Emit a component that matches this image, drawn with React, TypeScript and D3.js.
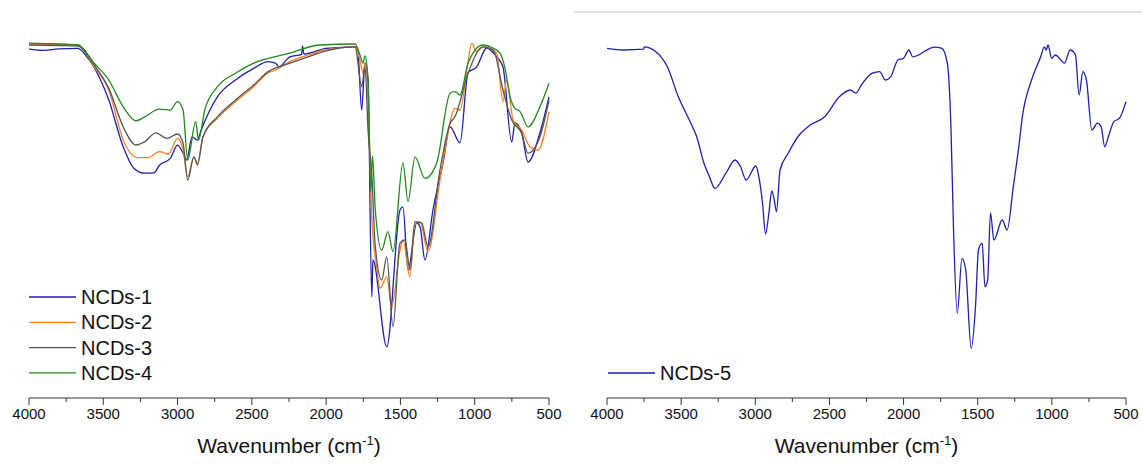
import React from "react";
import * as d3 from "d3";

type Pt = [number, number];

const xTicks = [4000, 3500, 3000, 2500, 2000, 1500, 1000, 500];
const xMinorTicks = [3750, 3250, 2750, 2250, 1750, 1250, 750];

const ncds1: Pt[] = [
  [4000, 87.7], [3900, 87.4], [3800, 87.8], [3671, 87.9], [3610, 85.8], [3463, 75], [3366, 63.3],
  [3293, 57.9], [3220, 56.7], [3159, 56.8], [3122, 58.7], [3049, 60.4], [3000, 63.7], [2963, 61.7],
  [2939, 60], [2902, 65.8], [2866, 65], [2841, 67.5], [2732, 75.8], [2610, 80], [2488, 82.9],
  [2390, 84.6], [2341, 84.2], [2317, 83.3], [2244, 85.8], [2165, 86.4], [2159, 88.5], [2150, 86.5],
  [2000, 87.9], [1805, 88.3], [1786, 87], [1761, 72.5], [1738, 84.3], [1718, 80], [1693, 25.8],
  [1685, 35], [1592, 13.3], [1503, 47.5], [1483, 48.3], [1449, 32.5], [1390, 44.3], [1368, 43.3],
  [1335, 35], [1281, 47.5], [1213, 59.3], [1166, 68.3], [1099, 64.3], [1045, 81.8], [987, 83.3],
  [919, 88], [852, 85.8], [810, 83.3], [751, 64.5], [729, 69.3], [684, 66.8], [641, 59.5],
  [561, 66.8], [500, 75.8],
];

const ncds2: Pt[] = [
  [4000, 89], [3800, 88.9], [3671, 88.75], [3561, 83.3], [3463, 77.5], [3366, 65], [3268, 60.6],
  [3195, 60.6], [3122, 62.1], [3061, 61.5], [3000, 65.4], [2963, 62.5], [2932, 55.8], [2890, 60.8],
  [2866, 59.2], [2829, 65.8], [2732, 70.4], [2610, 74.6], [2488, 78.3], [2390, 81.8], [2341, 82.5],
  [2244, 84.6], [2122, 86.25], [2000, 87.5], [1805, 88.3], [1770, 84.6], [1752, 81.7], [1738, 84.2],
  [1710, 67.5], [1693, 45.8], [1660, 33.3], [1637, 27.9], [1592, 30.8], [1559, 23.3], [1503, 37.5],
  [1483, 40], [1436, 30.8], [1402, 44.2], [1368, 44.6], [1314, 37.1], [1234, 55], [1189, 65],
  [1133, 72.9], [1099, 72.5], [1045, 84.6], [1020, 89.2], [987, 87.1], [944, 88.3], [852, 86.7],
  [810, 74.6], [785, 80], [742, 70], [684, 67.5], [628, 63.3], [574, 62.5], [500, 72.1],
];

const ncds3: Pt[] = [
  [4000, 88.75], [3800, 88.6], [3671, 88.5], [3561, 83.75], [3463, 77.9], [3366, 68.3], [3280, 63.75],
  [3220, 64.6], [3146, 66.8], [3073, 65.4], [3000, 66.5], [2963, 64.2], [2932, 55], [2890, 60.8],
  [2866, 58.75], [2829, 65.8], [2732, 70.8], [2610, 75], [2488, 78.75], [2390, 82.1], [2244, 84.2],
  [2122, 85.8], [2000, 87.3], [1805, 88.3], [1761, 78.3], [1738, 83.3], [1718, 67.5], [1691, 55],
  [1671, 39.2], [1626, 30], [1592, 35.8], [1550, 18.3], [1503, 39.2], [1469, 40], [1436, 32.5],
  [1402, 44.6], [1357, 44.2], [1314, 38.3], [1234, 57.5], [1166, 69.2], [1133, 70.8], [1045, 81.7],
  [944, 88.3], [875, 87.5], [810, 77.5], [751, 70], [684, 66.7], [641, 61.7], [561, 65.8], [500, 75],
];

const ncds4: Pt[] = [
  [4000, 89.2], [3800, 89], [3671, 88.75], [3561, 84.2], [3463, 80], [3366, 73.3], [3280, 69.8],
  [3220, 70.8], [3122, 72.7], [3049, 72.5], [3000, 74.6], [2963, 72.5], [2932, 60], [2878, 69.6],
  [2859, 65], [2817, 72.5], [2732, 78.3], [2610, 81.7], [2488, 84.2], [2244, 86.7], [2049, 88.75],
  [1805, 89], [1770, 86], [1752, 84.2], [1738, 86], [1718, 80], [1700, 52], [1688, 61], [1670, 48],
  [1626, 37.5], [1584, 42.1], [1550, 37.1], [1483, 59.25], [1449, 49.6], [1402, 60.8], [1335, 55.4],
  [1256, 59.2], [1166, 76.7], [1133, 77.1], [1099, 76.25], [1045, 84.2], [944, 88.75], [875, 87.9],
  [830, 86.7], [796, 82.9], [762, 75.8], [729, 72.9], [695, 72.1], [641, 68.3], [561, 73.3], [500, 79.2],
];

const ncds5: Pt[] = [
  [4000, 87.9], [3889, 87.5], [3753, 87.7], [3748, 88.3], [3679, 87.3], [3593, 83.3], [3519, 75.8],
  [3445, 70], [3395, 65.8], [3346, 59.2], [3309, 55.8], [3272, 52.9], [3198, 56.7], [3136, 60],
  [3099, 58.3], [3062, 55], [2996, 58.5], [2976, 55.8], [2951, 49.2], [2931, 41.5], [2907, 47.1],
  [2889, 52.3], [2872, 50], [2857, 47.1], [2833, 57.5], [2778, 61.7], [2704, 66.25], [2630, 68.75],
  [2532, 70.8], [2433, 75.8], [2359, 77.5], [2322, 76.7], [2285, 78.75], [2211, 81.7], [2161, 82.1],
  [2124, 80], [2087, 80.8], [2038, 85], [2001, 85.4], [1964, 87.5], [1939, 85.8], [1791, 88.2],
  [1742, 87.9], [1705, 84.2], [1680, 67.5], [1663, 42.5], [1638, 21.7], [1606, 35.4], [1581, 32.5],
  [1544, 12.9], [1515, 23.3], [1495, 37.5], [1470, 39.2], [1451, 28.3], [1433, 30], [1414, 46.8],
  [1391, 40], [1335, 45], [1302, 42.5], [1260, 53.3], [1223, 63.3], [1199, 70.8], [1137, 80],
  [1075, 85.8], [1051, 88.3], [1038, 87.5], [1026, 88.75], [1001, 85.4], [976, 86.25], [939, 85],
  [915, 84.2], [877, 87.5], [841, 86.25], [816, 76.25], [791, 82.1], [767, 80], [730, 67.5],
  [693, 69.2], [668, 68.3], [643, 63.3], [619, 65.8], [582, 69.6], [545, 70.4], [500, 74.6],
];

const leftSeries = [
  { name: "NCDs-1", data: ncds1, color: "#1f1fae" },
  { name: "NCDs-2", data: ncds2, color: "#f7801f" },
  { name: "NCDs-3", data: ncds3, color: "#545454" },
  { name: "NCDs-4", data: ncds4, color: "#1f8a1f" },
];
const rightSeries = [{ name: "NCDs-5", data: ncds5, color: "#1f1fae" }];

const FONT = "Arial, 'Liberation Sans', sans-serif";
const AXIS_Y = 398;

const y = d3.scaleLinear().domain([0, 90]).range([400, 40]);

function Panel({ x, series, legendX, legendY }: any) {
  const line = d3
    .line<Pt>()
    .x((d) => x(d[0]))
    .y((d) => y(d[1]))
    .curve(d3.curveMonotoneX);
  const [r0, r1] = x.range();
  const cx = (r0 + r1) / 2;
  return (
    <g>
      {series.map((s: any) => (
        <path key={s.name} d={line(s.data) || ""} fill="none" stroke={s.color} strokeWidth={1.3} />
      ))}
      <line x1={r0} x2={r1} y1={AXIS_Y} y2={AXIS_Y} stroke="#333" strokeWidth={1} />
      {xTicks.map((t) => (
        <g key={t}>
          <line x1={x(t)} x2={x(t)} y1={AXIS_Y} y2={AXIS_Y + 7} stroke="#333" strokeWidth={1} />
          <text x={x(t)} y={AXIS_Y + 21} textAnchor="middle" fontSize={15} fontFamily={FONT} fill="#111">
            {t}
          </text>
        </g>
      ))}
      {xMinorTicks.map((t) => (
        <line key={t} x1={x(t)} x2={x(t)} y1={AXIS_Y} y2={AXIS_Y + 4} stroke="#333" strokeWidth={1} />
      ))}
      <text x={cx} y={AXIS_Y + 55} textAnchor="middle" fontSize={21} fontFamily={FONT} fill="#111">
        Wavenumber (cm
        <tspan fontSize={13} dy={-8}>-1</tspan>
        <tspan dy={8}>)</tspan>
      </text>
      {series.map((s: any, i: number) => (
        <g key={s.name}>
          <line
            x1={legendX}
            x2={legendX + 47}
            y1={legendY + i * 25.3}
            y2={legendY + i * 25.3}
            stroke={s.color}
            strokeWidth={1.3}
          />
          <text x={legendX + 52} y={legendY + i * 25.3 + 7} fontSize={20} fontFamily={FONT} fill="#111">
            {s.name}
          </text>
        </g>
      ))}
    </g>
  );
}

export default function App() {
  const x1 = d3.scaleLinear().domain([4000, 500]).range([29, 549]);
  const x2 = d3.scaleLinear().domain([4000, 500]).range([607, 1126]);
  return (
    <svg
      width={1142}
      height={464}
      style={{ position: "absolute", left: 0, top: 0, background: "#fff" }}
    >
      <rect x={0} y={0} width={1142} height={464} fill="#fff" />
      <line x1={574} x2={1142} y1={12} y2={12} stroke="#c8c8c8" strokeWidth={1} />
      <Panel x={x1} series={leftSeries} legendX={29} legendY={297} />
      <Panel x={x2} series={rightSeries} legendX={608} legendY={373} />
    </svg>
  );
}
